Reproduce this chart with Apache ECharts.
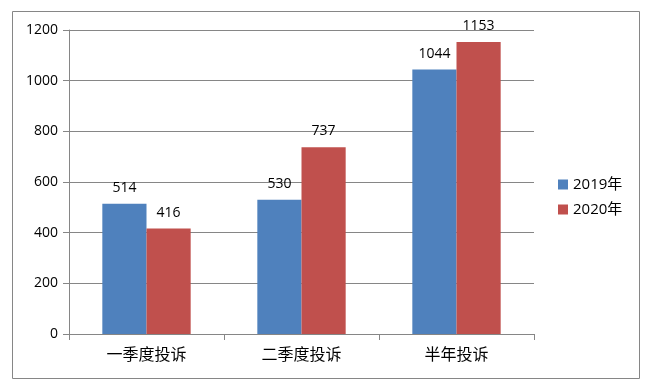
<!DOCTYPE html>
<html><head><meta charset="utf-8">
<script src="https://cdn.jsdelivr.net/npm/echarts@6/dist/echarts.min.js"></script>
<style>html,body{margin:0;padding:0;background:#fff}#c{width:653px;height:392px}</style>
</head><body><div id="c"></div>
<script>
var categories = ['一季度投诉', '二季度投诉', '半年投诉'];
var seriesNames = ['2019年', '2020年'];
var values2019 = [514, 530, 1044];
var values2020 = [416, 737, 1153];
var yTicks = [0, 200, 400, 600, 800, 1000, 1200];

var chart = echarts.init(document.getElementById('c'), null, {renderer: 'canvas'});
var font = '"Open Sans", "Noto Sans CJK SC", sans-serif';
var gridColor = '#868686';
chart.setOption({
  animation: false,
  textStyle: {fontFamily: font},
  graphic: [{type: 'rect', shape: {x: 12.5, y: 11.5, width: 627, height: 367}, style: {fill: 'none', stroke: gridColor, lineWidth: 1}, z: -1}],
  grid: {left: 69, right: 119, top: 30, bottom: 58},
  legend: {
    orient: 'vertical', left: 553, top: 172, itemWidth: 10, itemHeight: 10, itemGap: 10,
    icon: 'rect', textStyle: {fontSize: 15, color: '#000', fontFamily: font},
    data: seriesNames
  },
  xAxis: {
    type: 'category', data: categories,
    axisLine: {lineStyle: {color: gridColor}},
    axisTick: {show: true, length: 6, lineStyle: {color: gridColor}},
    axisLabel: {fontSize: 16, color: '#000', margin: 12, fontFamily: '"Noto Sans CJK SC", sans-serif'}
  },
  yAxis: {
    type: 'value', min: yTicks[0], max: yTicks[yTicks.length - 1], interval: 200,
    axisLine: {show: true, lineStyle: {color: gridColor}},
    axisTick: {show: true, length: 6, lineStyle: {color: gridColor}},
    splitLine: {lineStyle: {color: gridColor}},
    axisLabel: {fontSize: 14, color: '#000', margin: 11, formatter: function (v) { return String(v); }}
  },
  series: [
    {name: seriesNames[0], type: 'bar', data: values2019, barGap: '0%', barCategoryGap: '43%',
     itemStyle: {color: '#4F81BD'},
     label: {show: true, position: 'top', distance: 9, fontSize: 14, color: '#000'}},
    {name: seriesNames[1], type: 'bar', data: values2020, barGap: '0%', barCategoryGap: '43%',
     itemStyle: {color: '#C0504D'},
     label: {show: true, position: 'top', distance: 9, fontSize: 14, color: '#000'}}
  ]
});
</script></body></html>
